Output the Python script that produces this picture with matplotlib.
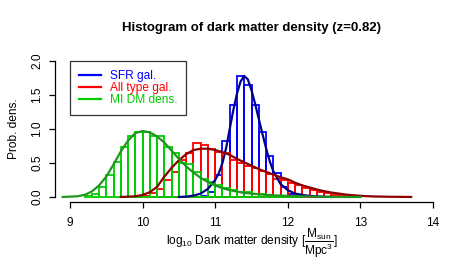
import matplotlib
matplotlib.use("Agg")
import matplotlib.pyplot as plt

plt.rcParams["font.family"] = ["Liberation Sans", "DejaVu Sans"]
plt.rcParams["mathtext.default"] = "regular"

# histogram bins (left edges, width 0.1) and densities
bin_width = 0.1
sfr_bins = [10.8, 10.9, 11.0, 11.1, 11.2, 11.3, 11.4, 11.5, 11.6, 11.7, 11.8, 11.9, 12.0, 12.1]
sfr_dens = [0.02, 0.08, 0.33, 0.82, 1.36, 1.78, 1.65, 1.36, 0.96, 0.61, 0.35, 0.15, 0.05, 0.02]

all_bins = [9.9, 10.0, 10.1, 10.2, 10.3, 10.4, 10.5, 10.6, 10.7, 10.8, 10.9, 11.0, 11.1, 11.2,
            11.3, 11.4, 11.5, 11.6, 11.7, 11.8, 11.9, 12.0, 12.1, 12.2, 12.3, 12.4, 12.5, 12.6, 12.7]
all_dens = [0.01, 0.02, 0.06, 0.12, 0.25, 0.36, 0.55, 0.65, 0.79, 0.77, 0.70, 0.66, 0.64, 0.55,
            0.50, 0.46, 0.42, 0.38, 0.34, 0.27, 0.25, 0.21, 0.18, 0.13, 0.10, 0.08, 0.06, 0.03, 0.01]

dm_bins = [9.2, 9.3, 9.4, 9.5, 9.6, 9.7, 9.8, 9.9, 10.0, 10.1, 10.2, 10.3, 10.4, 10.5, 10.6,
           10.7, 10.8, 10.9, 11.0, 11.1, 11.2, 11.3, 11.4, 11.5, 11.6, 11.7, 11.8, 11.9, 12.0, 12.1]
dm_dens = [0.01, 0.05, 0.15, 0.33, 0.52, 0.73, 0.90, 0.96, 0.95, 0.89, 0.90, 0.73, 0.64, 0.50, 0.48,
           0.36, 0.27, 0.22, 0.17, 0.13, 0.10, 0.08, 0.07, 0.05, 0.04, 0.03, 0.02, 0.02, 0.01, 0.01]

# density curves
sfr_cx = [10.5, 10.6, 10.7, 10.8, 10.9, 11.0, 11.05, 11.1, 11.15, 11.2, 11.25, 11.3, 11.35, 11.4,
          11.45, 11.5, 11.55, 11.6, 11.65, 11.7, 11.75, 11.8, 11.9, 12.0, 12.1, 12.2, 12.3, 12.4, 12.5, 12.6]
sfr_cy = [0.0, 0.005, 0.02, 0.05, 0.12, 0.25, 0.35, 0.50, 0.72, 1.00, 1.28, 1.52, 1.70, 1.78,
          1.73, 1.57, 1.37, 1.15, 0.93, 0.72, 0.53, 0.38, 0.19, 0.10, 0.05, 0.03, 0.015, 0.008, 0.003, 0.0]

all_cx = [9.7, 9.8, 9.9, 10.0, 10.1, 10.2, 10.3, 10.4, 10.5, 10.6, 10.7, 10.8, 10.9, 11.0, 11.1,
          11.2, 11.3, 11.4, 11.5, 11.6, 11.7, 11.8, 11.9, 12.0, 12.1, 12.2, 12.3, 12.4, 12.5, 12.6,
          12.7, 12.8, 12.9, 13.0, 13.1, 13.2, 13.3, 13.4, 13.5, 13.6, 13.7]
all_cy = [0.0, 0.005, 0.01, 0.03, 0.07, 0.15, 0.30, 0.43, 0.54, 0.63, 0.69, 0.71, 0.71, 0.69, 0.66,
          0.62, 0.56, 0.51, 0.46, 0.41, 0.37, 0.33, 0.29, 0.26, 0.21, 0.17, 0.14, 0.11, 0.085, 0.065,
          0.05, 0.035, 0.025, 0.017, 0.011, 0.007, 0.005, 0.003, 0.002, 0.001, 0.0]

dm_cx = [8.9, 9.0, 9.1, 9.2, 9.3, 9.4, 9.5, 9.6, 9.7, 9.8, 9.9, 10.0, 10.1, 10.2, 10.3, 10.4,
         10.5, 10.6, 10.7, 10.8, 10.9, 11.0, 11.1, 11.2, 11.3, 11.4, 11.5, 11.6, 11.7, 11.8, 11.9,
         12.0, 12.1, 12.2, 12.3, 12.4, 12.5, 12.6, 12.7, 12.8, 12.9, 13.0]
dm_cy = [0.0, 0.005, 0.01, 0.03, 0.08, 0.17, 0.30, 0.48, 0.67, 0.83, 0.94, 0.97, 0.95, 0.89, 0.80, 0.68,
         0.56, 0.45, 0.36, 0.28, 0.22, 0.17, 0.13, 0.10, 0.08, 0.06, 0.05, 0.04, 0.03, 0.025, 0.02,
         0.015, 0.01, 0.008, 0.006, 0.004, 0.003, 0.002, 0.001, 0.0, 0.0, 0.0]

x_ticks = [9, 10, 11, 12, 13, 14]
y_ticks = [0.0, 0.5, 1.0, 1.5, 2.0]
y_ticklabels = ["0.0", "0.5", "1.0", "1.5", "2.0"]

W, H = 477, 273
fig = plt.figure(figsize=(W / 100, H / 100), dpi=100)
ax = fig.add_axes([55.5 / W, (H - 202.4) / H, 392 / W, 146.8 / H])

bar_lw = 1.3
curve_lw = 1.6
fs = 8.6

ax.bar(sfr_bins, sfr_dens, width=bin_width, align="edge", fill=False,
       edgecolor="#0000FF", linewidth=bar_lw)
ax.plot(sfr_cx, sfr_cy, color="#00008B", lw=curve_lw)
ax.bar(all_bins, all_dens, width=bin_width, align="edge", fill=False,
       edgecolor="#FF0000", linewidth=bar_lw)
ax.plot(all_cx, all_cy, color="#8B0000", lw=curve_lw)
ax.bar(dm_bins, dm_dens, width=bin_width, align="edge", fill=False,
       edgecolor="#00CD00", linewidth=bar_lw)
ax.plot(dm_cx, dm_cy, color="#1E961E", lw=curve_lw)

ax.set_xlim(8.8, 14.2)
ax.set_ylim(-0.08, 2.08)
for s in ("top", "right"):
    ax.spines[s].set_visible(False)
ax.spines["left"].set_bounds(0, 2)
ax.spines["bottom"].set_bounds(9, 14)
for s in ("left", "bottom"):
    ax.spines[s].set_linewidth(0.9)

ax.set_xticks(x_ticks)
ax.set_xticklabels([str(t) for t in x_ticks])
ax.set_yticks(y_ticks)
ax.set_yticklabels(y_ticklabels, rotation=90, va="center")
ax.tick_params(axis="both", length=4.3, width=0.9, labelsize=fs)
ax.tick_params(axis="x", pad=6)
ax.tick_params(axis="y", pad=4.5)

ax.set_ylabel("Prob. dens.", fontsize=fs, labelpad=8)
ax.set_xlabel(r"log$_{10}$ Dark matter density [$\dfrac{M_{sun}}{Mpc^3}$]", fontsize=fs, labelpad=-1)
fig.text(252 / W, 1 - 28 / H, "Histogram of dark matter density (z=0.82)",
         ha="center", va="center", fontsize=9.5, fontweight="bold")

handles = [
    plt.Line2D([0], [0], color="#0000FF", lw=1.6, label="SFR gal."),
    plt.Line2D([0], [0], color="#FF0000", lw=1.6, label="All type gal."),
    plt.Line2D([0], [0], color="#00CD00", lw=1.6, label="MI DM dens."),
]
leg = ax.legend(handles=handles, loc="upper left", bbox_to_anchor=(0.037, 0.963),
                borderaxespad=0, fontsize=fs, handlelength=1.85, handletextpad=0.75,
                labelspacing=0.0, borderpad=0.75, fancybox=False, frameon=True,
                labelcolor=["#0000FF", "#FF0000", "#00CD00"])
leg.get_frame().set_edgecolor("black")
leg.get_frame().set_linewidth(0.9)

fig.savefig("out.png", dpi=100)
